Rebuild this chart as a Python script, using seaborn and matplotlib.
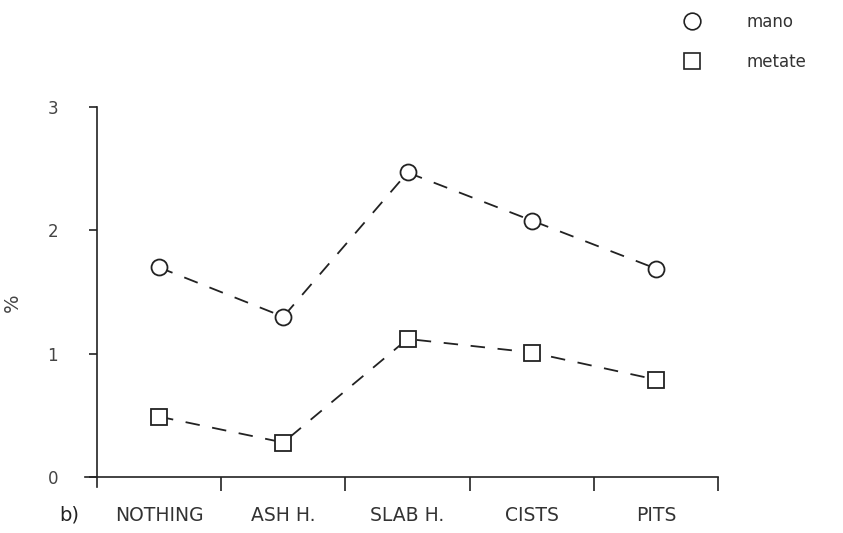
import pandas as pd
import matplotlib.pyplot as plt
import seaborn as sns
from matplotlib.lines import Line2D

# values
categories = ['NOTHING', 'ASH H.', 'SLAB H.', 'CISTS', 'PITS']
mano = [1.70, 1.30, 2.47, 2.08, 1.69]
metate = [0.49, 0.28, 1.12, 1.01, 0.79]
yticks = [0, 1, 2, 3]

df = pd.DataFrame({'feature': categories * 2,
                   'pct': mano + metate,
                   'tool': ['mano'] * 5 + ['metate'] * 5})

sns.set_style('ticks')
plt.rcParams['font.family'] = ['DejaVu Sans']

fig = plt.figure(figsize=(8.43, 5.33), dpi=100)
ax = fig.add_axes([0.115, 0.105, 0.737, 0.694])

ink = '#222222'
for tool, marker, ms in [('mano', 'o', 11.5), ('metate', 's', 11)]:
    sns.lineplot(data=df[df['tool'] == tool], x='feature', y='pct', ax=ax,
                 color=ink, linewidth=1.3, marker=marker, markersize=ms,
                 markerfacecolor='white', markeredgecolor=ink,
                 markeredgewidth=1.3, legend=False)
for line in ax.lines:
    line.set_dashes([8, 7])

ax.set_xlim(-0.5, 4.5)
ax.set_ylim(0, 3)
ax.set_xticks([0.5, 1.5, 2.5, 3.5, 4.5])
ax.set_xticklabels([])
ax.set_xticks(range(5), minor=True)
ax.set_xticklabels(categories, minor=True)
ax.tick_params(axis='x', which='major', bottom=True, direction='out', length=10,
               width=1.2, color=ink)
ax.tick_params(axis='x', which='minor', bottom=True, length=0, pad=21, labelsize=13.5,
               labelcolor='#333333')
ax.set_yticks(yticks)
ax.set_yticklabels(['0', '1', '2', '3'])
ax.tick_params(axis='y', left=True, direction='out', length=6, width=1.2, color=ink,
               pad=22, labelsize=12, labelcolor='#444444')

sns.despine(ax=ax)
for side in ['left', 'bottom']:
    ax.spines[side].set_color(ink)
    ax.spines[side].set_linewidth(1.2)
ax.spines['bottom'].set_bounds(-0.6, 4.5)
ax.spines['left'].set_bounds(-0.08, 3)

ax.set_xlabel('')
ax.set_ylabel('%', fontsize=14, color='#444444')
ax.yaxis.set_label_coords(-0.121, 0.47)
fig.text(0.082, 0.034, 'b)', fontsize=14, color='#222222', ha='center', va='center')

handles = [Line2D([], [], linestyle='none', marker='o', markersize=12, markerfacecolor='white',
                  markeredgecolor=ink, markeredgewidth=1.2),
           Line2D([], [], linestyle='none', marker='s', markersize=11, markerfacecolor='white',
                  markeredgecolor=ink, markeredgewidth=1.2)]
fig.legend(handles, ['mano', 'metate'], loc='upper left', bbox_to_anchor=(0.807, 0.976),
           frameon=False, fontsize=12, labelcolor='#333333', handletextpad=2.6,
           handlelength=1.4, labelspacing=1.35, borderaxespad=0, borderpad=0)

plt.savefig('out.png', dpi=100)
